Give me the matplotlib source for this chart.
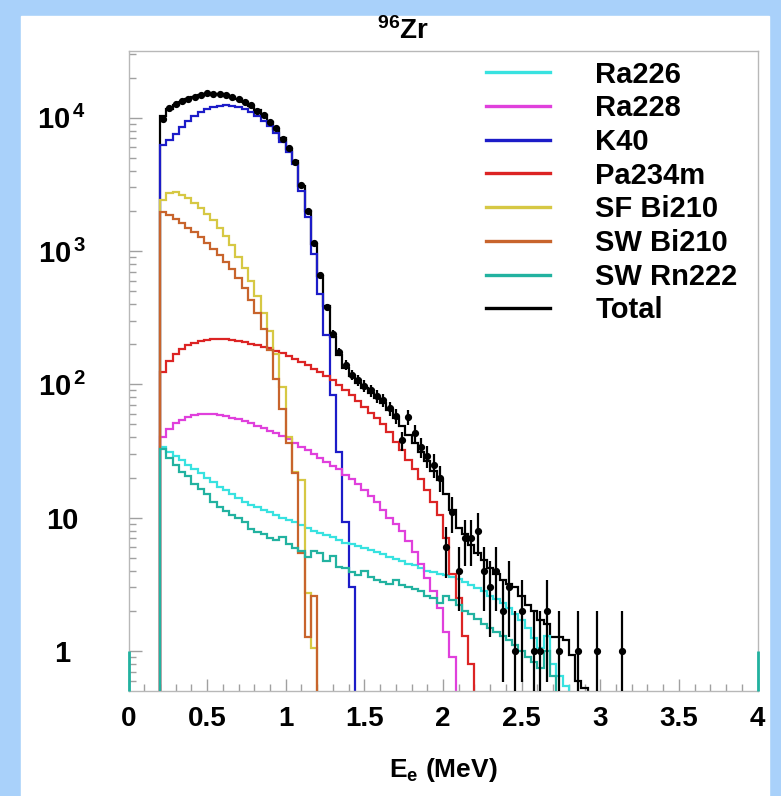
import numpy as np
import matplotlib.pyplot as plt
from matplotlib.lines import Line2D

# histogram binning (MeV)
bin_width = 0.04
hist_start = 0.20
hist_range = (0.0, 4.0)

# bin contents, first bin starts at 0.20 MeV
k40 = [6200, 6800, 7600, 8500, 9400, 10300, 11000, 11600, 12000, 12300,
       12400, 12300, 12000, 11600, 11000, 10300, 9500, 8600, 7700, 6600,
       5500, 4500, 2840, 1790, 955, 480, 234, 83, 31, 9.3, 3.0]
sf_bi210 = [2400, 2700, 2750, 2650, 2500, 2300, 2100, 1900, 1700, 1500,
            1300, 1100, 900, 750, 600, 460, 340, 250, 170, 95,
            40, 22, 19, 2.7, 1.05]
sw_bi210 = [1950, 1850, 1750, 1620, 1500, 1380, 1270, 1150, 1040, 940,
            830, 730, 630, 530, 430, 340, 260, 180, 110, 65,
            36, 21.6, 5.4, 1.27, 2.6]
pa234m = [123, 150, 170, 185, 197, 205, 212, 216, 219, 220,
          219, 216, 212, 207, 202, 197, 192, 186, 179, 171,
          163, 155, 147, 139, 131, 123, 115, 107, 99, 91,
          83, 75, 68, 61, 56, 50, 44, 37, 32, 27,
          23, 19.5, 16, 13, 10.5, 7, 3.8, 2.5, 1.3, 0.8]
ra228 = [40, 46, 51, 54, 56.5, 58.5, 59.5, 60, 59.5, 58.5,
         57.5, 56, 54.5, 53, 51, 49, 47, 45, 43, 41,
         39, 36.5, 34, 32, 30, 28, 26, 24.5, 23, 21,
         19.5, 18, 16, 14.5, 13, 11.5, 10, 9, 8, 6.7,
         5.5, 4.5, 3.5, 2.8, 2.1, 1.4, 0.9]
ra226 = [34, 31, 29, 27, 25, 23, 21.5, 20, 18.5, 17,
         16, 15, 14, 13.2, 12.5, 12, 11.4, 11, 10.5, 10,
         9.6, 9.2, 8.8, 8.4, 8, 7.7, 7.4, 7.1, 6.8, 6.5,
         6.3, 6.1, 5.9, 5.7, 5.5, 5.3, 5.1, 4.9, 4.7, 4.5,
         4.4, 4.2, 4.0, 3.9, 3.8, 3.7, 3.6, 3.45, 3.3, 3.1,
         2.95, 2.8, 2.6, 2.45, 2.3, 2.1, 1.9, 1.7, 1.5, 1.25,
         1.05, 1.3, 0.8, 0.65, 0.55]
sw_rn222 = [33, 28, 25, 22, 20.5, 18, 16.5, 15, 13, 12,
            11.2, 10.5, 10, 9.3, 8.2, 7.8, 7.5, 7.0, 6.8, 7.2,
            6.4, 5.9, 5.6, 5.1, 5.6, 5.4, 4.7, 5.2, 4.3, 4.2,
            3.9, 3.7, 4.0, 3.6, 3.4, 3.3, 3.2, 3.4, 3.1, 3.0,
            2.9, 2.8, 2.6, 2.5, 2.3, 2.6, 2.4, 2.2, 2.0, 1.9,
            1.75, 1.6, 1.5, 1.4, 1.3, 1.2, 1.1, 1.0, 0.9, 0.82,
            0.75, 1.0, 0.65]
total = [10300, 11600, 12400, 13100, 13700, 14300, 14700, 15000, 15050, 15000,
         14800, 14400, 13800, 13200, 12300, 11400, 10400, 9300, 8200, 7000,
         5800, 4750, 3050, 1980, 1130, 645, 390, 227, 165, 132,
         116, 103, 94, 86, 79, 72, 64, 56, 49, 42,
         36, 31, 26.5, 22.5, 19, 15, 11.5, 8.3, 7.6, 6.2,
         5.4, 4.8, 4.2, 3.8, 3.4, 3.2, 3.0, 2.6, 2.2, 2.0,
         1.7, 1.6, 1.27, 1.27, 1.2, 0.93, 0.6, 0.53]
# measured counts per bin (0 = empty bin)
data_counts = [9800, 11900, 12600, 13400, 13900, 14400, 14900, 15200, 15100, 15000,
               14700, 14300, 13900, 13000, 12400, 11300, 10500, 9200, 8300, 6900,
               5900, 4650, 3100, 2010, 1150, 660, 380, 240, 175, 140,
               118, 108, 97, 90, 82, 76, 66, 58, 38, 57,
               43, 34, 29, 25, 20, 6, 11, 4, 7, 7,
               8, 4, 3, 4, 2, 3, 1, 2, 0, 1,
               1, 2, 0, 1, 0, 0, 1, 0, 0, 1,
               0, 0, 0, 1]

labels = ["Ra226", "Ra228", "K40", "Pa234m", "SF Bi210", "SW Bi210", "SW Rn222", "Total"]
series = [ra226, ra228, k40, pa234m, sf_bi210, sw_bi210, sw_rn222, total]
colors = ["#38e2e0", "#e040dc", "#1c1cc8", "#dc2424", "#d6c844", "#c8642c", "#22b2a0", "black"]
zorders = [2.2, 2.3, 2.1, 2.4, 2.5, 2.6, 2.7, 2.0]

plt.rcParams['font.family'] = ['Liberation Sans', 'DejaVu Sans']
plt.rcParams['font.weight'] = 'bold'
plt.rcParams['mathtext.fontset'] = 'custom'
plt.rcParams['mathtext.rm'] = 'Liberation Sans:bold'
plt.rcParams['mathtext.it'] = 'Liberation Sans:bold'
plt.rcParams['mathtext.bf'] = 'Liberation Sans:bold'

fig = plt.figure(figsize=(7.81, 7.96), dpi=100, facecolor="#a9d1fa")
# white canvas inside the blue border
fig.patches.append(plt.Rectangle((21 / 781, 0), 748 / 781, 780 / 796,
                                 transform=fig.transFigure, color="white", zorder=-10))
ax = fig.add_axes([128.5 / 781, 1 - 691 / 796, 629 / 781, 640 / 796])
ax.set_facecolor("white")
ax.set_yscale("log")
ax.set_xlim(*hist_range)
ax.set_ylim(10 ** -0.3, 10 ** 4.5)

for vals, lab, col, z in zip(series, labels, colors, zorders):
    edges = hist_start + bin_width * np.arange(len(vals) + 1)
    ax.stairs(vals, edges, baseline=1e-3, color=col, lw=1.6, zorder=z)

# edge lines of the full histogram range
ax.vlines(hist_range, ax.get_ylim()[0], 1, color=colors[6], lw=2.0, zorder=3.5, clip_on=False)

# data points with sqrt(N) errors
counts = np.array(data_counts, dtype=float)
centers = hist_start + bin_width * (np.arange(len(counts)) + 0.5)
keep = counts > 0
ax.errorbar(centers[keep], counts[keep], yerr=np.sqrt(counts[keep]), fmt="o",
            ms=4.2, color="black", ecolor="black", elinewidth=1.6, capsize=0, zorder=3)

# axes styling
for side in ["left", "right", "top", "bottom"]:
    ax.spines[side].set_color("#b8b8b8")
    ax.spines[side].set_linewidth(1.0)
ax.set_xticks(np.arange(0, 4.01, 0.5))
ax.set_xticks(np.arange(0, 4.01, 0.1), minor=True)
ax.set_xticklabels(["0", "0.5", "1", "1.5", "2", "2.5", "3", "3.5", "4"])
ax.set_yticks([1, 10, 100, 1000, 10000])
ax.set_yticklabels(["1", "10", r"$10^{\,2}$", r"$10^{\,3}$", r"$10^{\,4}$"])
ax.tick_params(axis="both", which="both", direction="in", color="#a0a0a0")
ax.tick_params(axis="both", which="major", length=9, width=1)
ax.tick_params(axis="both", which="minor", length=5, width=1)
ax.tick_params(axis="x", which="major", labelsize=20, pad=11)
ax.tick_params(axis="y", which="major", labelsize=21, pad=48)
for t in ax.get_yticklabels():
    t.set_horizontalalignment("center")

ax.set_xlabel(r"E$_{e}$ (MeV)", fontsize=19, fontweight="bold", labelpad=17)
fig.text(403 / 781, 1 - 31 / 796, r"$^{96}$Zr", ha="center", va="center", fontsize=20)

handles = [Line2D([], [], color=c, lw=2.4) for c in colors]
ax.legend(handles, labels, loc="upper left", bbox_to_anchor=(0.568, 0.985),
          frameon=False, fontsize=21, handlelength=2.2, handletextpad=1.55,
          labelspacing=0.195, borderpad=0, borderaxespad=0)

fig.savefig("out.png", dpi=100)
